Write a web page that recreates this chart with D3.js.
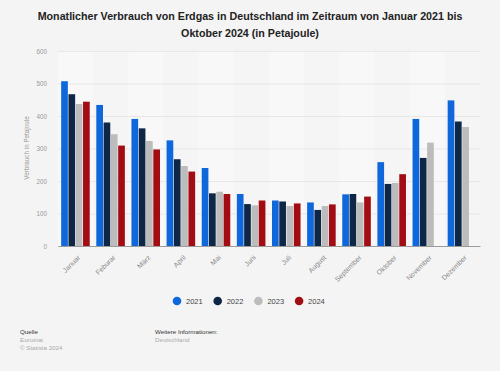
<!DOCTYPE html>
<html>
<head>
<meta charset="utf-8">
<script src="https://cdn.jsdelivr.net/npm/d3@7"></script>
<style>
  body { margin: 0; background: #f4f4f4; }
  svg { font-family: "Liberation Sans", Arial, sans-serif; display: block; }
</style>
</head>
<body>
<svg width="500" height="371"></svg>
<script>
const months = ["Januar", "Feburar", "März", "April", "Mai", "Juni", "Juli", "August", "September", "Oktober", "November", "Dezember"];
const years = ["2021", "2022", "2023", "2024"];
const colors = ["#0f67dc", "#0f2746", "#bcbcbc", "#a20d14"];
const v2021 = [507, 434, 391, 325, 240, 160, 140, 134, 159, 258, 391, 448];
const v2022 = [467, 380, 362, 267, 162, 129, 137, 111, 160, 191, 271, 383];
const v2023 = [437, 344, 323, 246, 167, 125, 123, 123, 134, 194, 318, 366];
const v2024 = [444, 309, 297, 229, 160, 140, 131, 128, 152, 221, null, null];
const yTicks = [0, 100, 200, 300, 400, 500, 600];

const series = [v2021, v2022, v2023, v2024];

const svg = d3.select("svg");
const margin = { top: 51, right: 20, bottom: 125, left: 58 };
const width = +svg.attr("width");
const height = +svg.attr("height");
const innerWidth = width - margin.left - margin.right;
const innerHeight = height - margin.top - margin.bottom;

svg.append("rect").attr("width", width).attr("height", height).attr("fill", "#f4f4f4");

// title
const title = svg.append("text")
  .attr("text-anchor", "middle")
  .attr("font-size", 10.7)
  .attr("font-weight", "bold")
  .attr("fill", "#222");
title.append("tspan").attr("x", 250).attr("y", 20).text("Monatlicher Verbrauch von Erdgas in Deutschland im Zeitraum von Januar 2021 bis");
title.append("tspan").attr("x", 250).attr("y", 37).text("Oktober 2024 (in Petajoule)");

const g = svg.append("g").attr("transform", `translate(${margin.left},${margin.top})`);

const x = d3.scaleBand().domain(months).range([0, innerWidth]).paddingInner(0.17).paddingOuter(0.09);
const x1 = d3.scaleBand().domain(years).range([0, x.bandwidth()]);
const y = d3.scaleLinear().domain([0, 600]).range([innerHeight, 0]);

// faint column bands
g.selectAll(".band").data(months).enter().append("rect")
  .attr("x", (d, i) => i * innerWidth / 12)
  .attr("width", innerWidth / 12)
  .attr("y", 0).attr("height", innerHeight)
  .attr("fill", (d, i) => i % 2 ? "#f5f5f5" : "#f8f8f8");

// gridlines + y axis
const yAxis = d3.axisLeft(y).tickValues(yTicks).tickSize(-innerWidth).tickPadding(11);
const yAxisG = g.append("g").call(yAxis);
yAxisG.select(".domain").remove();
yAxisG.selectAll("line").attr("stroke", "#e3e3e3").attr("stroke-width", 0.8);
yAxisG.selectAll("text").attr("fill", "#999").attr("font-size", 6.3);

// bars
years.forEach((yr, k) => {
  g.append("g").selectAll("rect")
    .data(months.map((m, i) => ({ m, v: series[k][i] })).filter(d => d.v != null))
    .enter().append("rect")
    .attr("x", d => x(d.m) + x1(yr))
    .attr("width", x1.bandwidth() - 0.6)
    .attr("y", d => y(d.v))
    .attr("height", d => innerHeight - y(d.v))
    .attr("fill", colors[k]);
});

// x axis
const xAxisG = g.append("g").attr("transform", `translate(0,${innerHeight})`)
  .call(d3.axisBottom(x).tickSize(0));
xAxisG.select(".domain").attr("stroke", "#888").attr("stroke-width", 0.8);
xAxisG.selectAll("text")
  .attr("x", 0).attr("y", 0).attr("dy", 0)
  .attr("fill", "#888")
  .attr("font-size", 7)
  .attr("text-anchor", "end")
  .attr("transform", "translate(5,12) rotate(-45)");

// y axis label
svg.append("text")
  .attr("transform", "translate(29,148) rotate(-90)")
  .attr("text-anchor", "middle")
  .attr("font-size", 6.3)
  .attr("fill", "#999")
  .text("Verbrauch in Petajoule");

// legend
const legend = svg.append("g").attr("transform", "translate(177,301)");
years.forEach((yr, k) => {
  const lg = legend.append("g").attr("transform", `translate(${k * 40.7},0)`);
  lg.append("circle").attr("r", 4.3).attr("fill", colors[k]);
  lg.append("text").attr("x", 9).attr("y", 3).attr("font-size", 7.5).attr("fill", "#444").text(yr);
});

// footer
const foot = [
  { x: 20, y: 334, t: "Quelle", c: "#333" },
  { x: 20, y: 342, t: "Eurostat", c: "#aaa" },
  { x: 20, y: 350, t: "© Statista 2024", c: "#aaa" },
  { x: 155, y: 334, t: "Weitere Informationen:", c: "#333" },
  { x: 155, y: 342, t: "Deutschland", c: "#aaa" }
];
svg.selectAll(".foot").data(foot).enter().append("text")
  .attr("x", d => d.x).attr("y", d => d.y)
  .attr("font-size", 6.2)
  .attr("fill", d => d.c)
  .text(d => d.t);
</script>
</body>
</html>
